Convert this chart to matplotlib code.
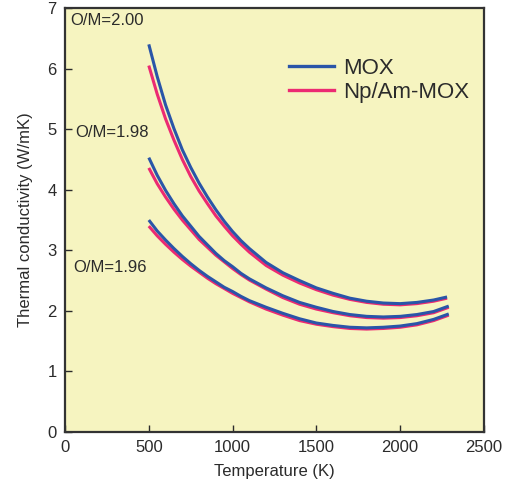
import matplotlib
matplotlib.use("Agg")
import matplotlib.pyplot as plt
from matplotlib.lines import Line2D

plt.rcParams['font.family'] = ['Liberation Sans', 'DejaVu Sans']

# Temperatures (K)
temp_a = [500, 550, 600, 650, 700, 750, 800, 850, 900, 950, 1000, 1050, 1100,
          1200, 1300, 1400, 1500, 1600, 1700, 1800, 1900, 2000, 2100, 2200, 2280]
temp_b = [500, 550, 600, 650, 700, 750, 800, 850, 900, 950, 1000, 1050, 1100,
          1200, 1300, 1400, 1500, 1600, 1700, 1800, 1900, 2000, 2100, 2200, 2290]

# O/M = 2.00
mox_200 = [6.40, 5.87, 5.40, 5.01, 4.66, 4.37, 4.11, 3.88, 3.67, 3.48, 3.31, 3.16, 3.03,
           2.80, 2.63, 2.50, 2.38, 2.29, 2.21, 2.16, 2.13, 2.12, 2.14, 2.18, 2.23]
npam_200 = [6.05, 5.58, 5.17, 4.82, 4.50, 4.22, 3.98, 3.77, 3.57, 3.40, 3.24, 3.10, 2.97,
            2.75, 2.59, 2.46, 2.35, 2.26, 2.19, 2.14, 2.11, 2.10, 2.12, 2.16, 2.21]

# O/M = 1.98
mox_198 = [4.53, 4.24, 3.99, 3.77, 3.57, 3.40, 3.23, 3.09, 2.95, 2.83, 2.73, 2.62, 2.53,
           2.38, 2.25, 2.14, 2.06, 1.99, 1.94, 1.91, 1.90, 1.91, 1.94, 1.99, 2.08]
npam_198 = [4.36, 4.10, 3.88, 3.68, 3.50, 3.34, 3.18, 3.05, 2.92, 2.81, 2.70, 2.60, 2.51,
            2.36, 2.22, 2.11, 2.03, 1.97, 1.92, 1.89, 1.88, 1.89, 1.92, 1.97, 2.06]

# O/M = 1.96
mox_196 = [3.50, 3.32, 3.17, 3.03, 2.90, 2.78, 2.67, 2.57, 2.48, 2.39, 2.32, 2.24, 2.17,
           2.06, 1.96, 1.87, 1.80, 1.76, 1.73, 1.72, 1.73, 1.75, 1.79, 1.86, 1.95]
npam_196 = [3.40, 3.24, 3.10, 2.97, 2.85, 2.74, 2.64, 2.54, 2.45, 2.37, 2.29, 2.22, 2.15,
            2.03, 1.93, 1.84, 1.78, 1.74, 1.71, 1.70, 1.71, 1.73, 1.77, 1.84, 1.93]

om_labels = ["O/M=2.00", "O/M=1.98", "O/M=1.96"]
legend_labels = ["MOX", "Np/Am-MOX"]

blue = "#2a55a8"
pink = "#ec2a72"
txt = "#2b2b2b"

fig = plt.figure(figsize=(5.14, 4.86), dpi=100)
ax = fig.add_axes([0.1265, 0.111, 0.815, 0.8725])
ax.set_facecolor("#f6f4c0")

lw = 2.2
kw = dict(lw=lw, solid_capstyle='butt', solid_joinstyle='round')
ax.plot(temp_a, npam_200, color=pink, **kw)
ax.plot(temp_a, mox_200, color=blue, **kw)
ax.plot(temp_b, npam_198, color=pink, **kw)
ax.plot(temp_b, mox_198, color=blue, **kw)
ax.plot(temp_b, npam_196, color=pink, **kw)
ax.plot(temp_b, mox_196, color=blue, **kw)

ax.set_xlim(0, 2500)
ax.set_ylim(0, 7)
ax.set_xticks([0, 500, 1000, 1500, 2000, 2500])
ax.set_yticks(range(0, 8))
ax.tick_params(direction='in', length=5, width=1, colors=txt, labelsize=12, pad=6)
for s in ax.spines.values():
    s.set_linewidth(1.6)
    s.set_color("#333333")

ax.set_xlabel("Temperature (K)", fontsize=12, color=txt, labelpad=6)
ax.set_ylabel("Thermal conductivity (W/mK)", fontsize=12, color=txt, labelpad=10)

ax.text(30, 6.80, om_labels[0], fontsize=12, color=txt, va='center', ha='left')
ax.text(60, 4.94, om_labels[1], fontsize=12, color=txt, va='center', ha='left')
ax.text(48, 2.71, om_labels[2], fontsize=12, color=txt, va='center', ha='left')

handles = [Line2D([], [], color=blue, lw=2.4), Line2D([], [], color=pink, lw=2.4)]
leg = ax.legend(handles, legend_labels, loc='upper left', bbox_to_anchor=(0.535, 0.882),
                frameon=False, fontsize=16, handlelength=2.0, handletextpad=0.45,
                labelspacing=0.12, borderpad=0, borderaxespad=0)
for t in leg.get_texts():
    t.set_color(txt)

fig.savefig("out.png", dpi=100)
